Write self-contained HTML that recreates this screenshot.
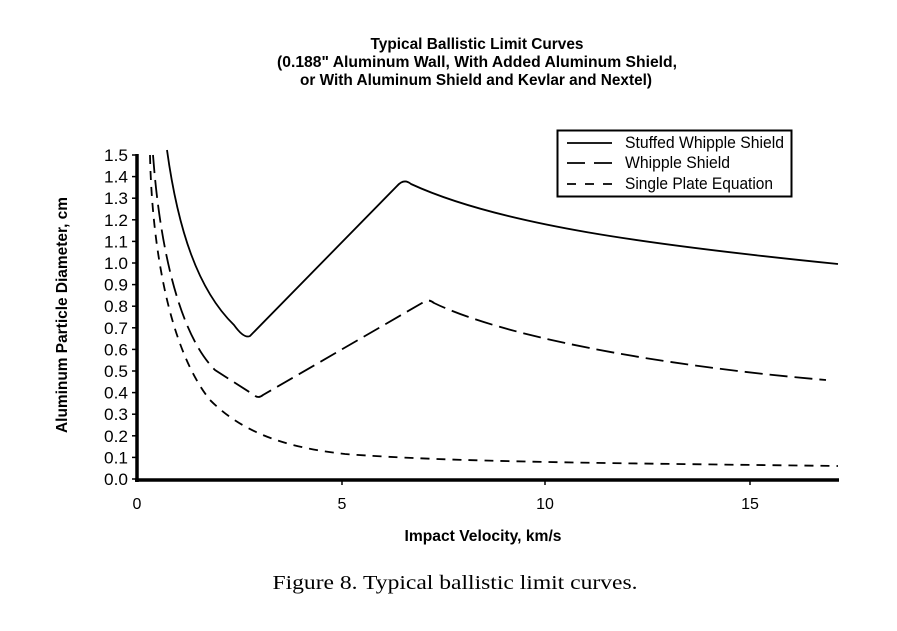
<!DOCTYPE html>
<html><head><meta charset="utf-8"><style>body{margin:0;background:#fff}svg{display:block}</style></head>
<body>
<svg width="897" height="631" viewBox="0 0 897 631" xmlns="http://www.w3.org/2000/svg" font-family="Liberation Sans, sans-serif">
<rect width="897" height="631" fill="#fff"/>
<g font-weight="bold" font-size="16" text-anchor="middle">
<text x="477" y="49" textLength="213" lengthAdjust="spacingAndGlyphs">Typical Ballistic Limit Curves</text>
<text x="477" y="67" textLength="400" lengthAdjust="spacingAndGlyphs">(0.188" Aluminum Wall, With Added Aluminum Shield,</text>
<text x="476" y="85" textLength="352" lengthAdjust="spacingAndGlyphs">or With Aluminum Shield and Kevlar and Nextel)</text>
</g>
<line x1="137" y1="154" x2="137" y2="482" stroke="#000" stroke-width="3.5"/>
<line x1="135" y1="480" x2="839" y2="480" stroke="#000" stroke-width="3.5"/>
<g stroke="#000" stroke-width="1.5">
<line x1="132" y1="155" x2="137" y2="155"/><line x1="132" y1="176.6" x2="137" y2="176.6"/><line x1="132" y1="198.2" x2="137" y2="198.2"/><line x1="132" y1="219.8" x2="137" y2="219.8"/><line x1="132" y1="241.4" x2="137" y2="241.4"/><line x1="132" y1="263" x2="137" y2="263"/><line x1="132" y1="284.6" x2="137" y2="284.6"/><line x1="132" y1="306.2" x2="137" y2="306.2"/><line x1="132" y1="327.8" x2="137" y2="327.8"/><line x1="132" y1="349.4" x2="137" y2="349.4"/><line x1="132" y1="371" x2="137" y2="371"/><line x1="132" y1="392.6" x2="137" y2="392.6"/><line x1="132" y1="414.2" x2="137" y2="414.2"/><line x1="132" y1="435.8" x2="137" y2="435.8"/><line x1="132" y1="457.4" x2="137" y2="457.4"/><line x1="132" y1="479" x2="137" y2="479"/>
<line x1="342" y1="480" x2="342" y2="485"/><line x1="545" y1="480" x2="545" y2="485"/><line x1="750" y1="480" x2="750" y2="485"/>
</g>
<g font-size="17" text-anchor="end">
<text x="128" y="161" textLength="24" lengthAdjust="spacingAndGlyphs">1.5</text>
<text x="128" y="182.6" textLength="24" lengthAdjust="spacingAndGlyphs">1.4</text>
<text x="128" y="204.2" textLength="24" lengthAdjust="spacingAndGlyphs">1.3</text>
<text x="128" y="225.8" textLength="24" lengthAdjust="spacingAndGlyphs">1.2</text>
<text x="128" y="247.4" textLength="24" lengthAdjust="spacingAndGlyphs">1.1</text>
<text x="128" y="269" textLength="24" lengthAdjust="spacingAndGlyphs">1.0</text>
<text x="128" y="290.6" textLength="24" lengthAdjust="spacingAndGlyphs">0.9</text>
<text x="128" y="312.2" textLength="24" lengthAdjust="spacingAndGlyphs">0.8</text>
<text x="128" y="333.8" textLength="24" lengthAdjust="spacingAndGlyphs">0.7</text>
<text x="128" y="355.4" textLength="24" lengthAdjust="spacingAndGlyphs">0.6</text>
<text x="128" y="377" textLength="24" lengthAdjust="spacingAndGlyphs">0.5</text>
<text x="128" y="398.6" textLength="24" lengthAdjust="spacingAndGlyphs">0.4</text>
<text x="128" y="420.2" textLength="24" lengthAdjust="spacingAndGlyphs">0.3</text>
<text x="128" y="441.8" textLength="24" lengthAdjust="spacingAndGlyphs">0.2</text>
<text x="128" y="463.4" textLength="24" lengthAdjust="spacingAndGlyphs">0.1</text>
<text x="128" y="485" textLength="24" lengthAdjust="spacingAndGlyphs">0.0</text>
</g>
<g font-size="16" text-anchor="middle">
<text x="137" y="509">0</text><text x="342" y="509">5</text><text x="545" y="509">10</text><text x="750" y="509">15</text>
</g>
<text x="483" y="541" font-size="16" font-weight="bold" text-anchor="middle" textLength="157" lengthAdjust="spacingAndGlyphs">Impact Velocity, km/s</text>
<text transform="translate(67,315) rotate(-90)" font-size="16" font-weight="bold" text-anchor="middle" textLength="236" lengthAdjust="spacingAndGlyphs">Aluminum Particle Diameter, cm</text>
<g fill="none" stroke="#000" stroke-width="1.8">
<path d="M167,150 C178,230 198,290 234,325 Q244,339 250,336 L397,186 Q404,178 411,184 C500,225 650,245 838,264"/>
<path stroke-dasharray="18,7" d="M153,155 C160,250 180,335 215,370 L254,395 Q258,399 263,395 L422,303 Q428,298 434,303 C500,335 650,365 826,380"/>
<path stroke-dasharray="9,7" d="M150,155 C152,250 170,350 210,400 C240,430 280,447 345,454 C450,462 600,463 838,466"/>
</g>
<rect x="557.5" y="130.5" width="234" height="66" fill="#fff" stroke="#000" stroke-width="2"/>
<g stroke="#000" stroke-width="1.8">
<line x1="567" y1="143" x2="612" y2="143"/>
<line x1="567" y1="163" x2="612" y2="163" stroke-dasharray="18,9"/>
<line x1="567" y1="184" x2="612" y2="184" stroke-dasharray="9,9"/>
</g>
<g font-size="17">
<text x="625" y="148" textLength="159" lengthAdjust="spacingAndGlyphs">Stuffed Whipple Shield</text>
<text x="625" y="168" textLength="105" lengthAdjust="spacingAndGlyphs">Whipple Shield</text>
<text x="625" y="189" textLength="148" lengthAdjust="spacingAndGlyphs">Single Plate Equation</text>
</g>
<text x="455" y="589" font-family="Liberation Serif, serif" font-size="20" text-anchor="middle" textLength="365" lengthAdjust="spacingAndGlyphs">Figure 8. Typical ballistic limit curves.</text>
</svg>
</body></html>
